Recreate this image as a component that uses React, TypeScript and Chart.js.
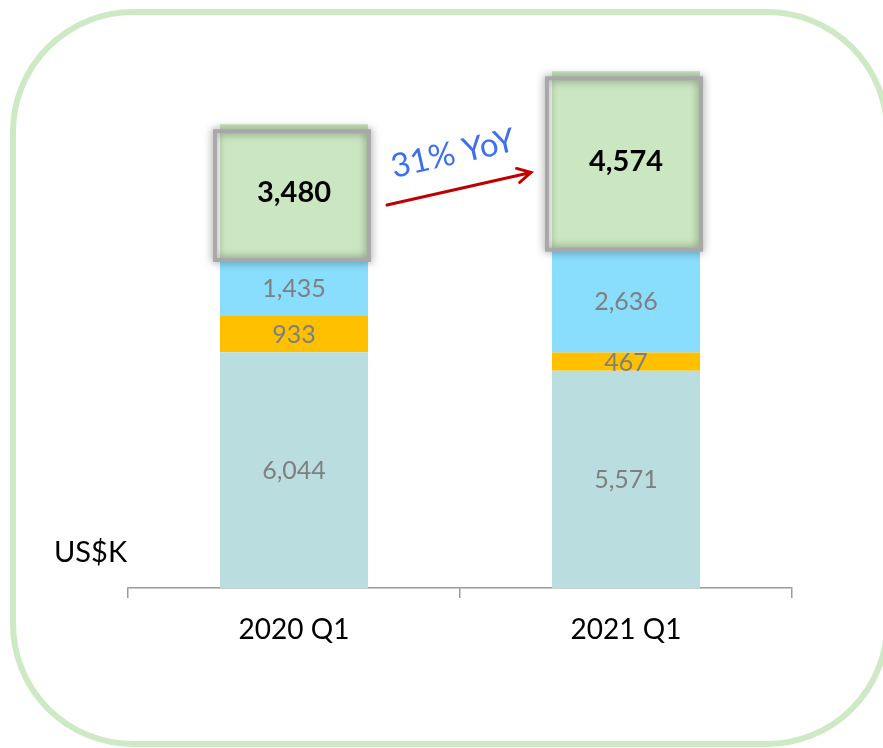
import React, { useEffect, useRef } from "react";
import { Chart, registerables } from "chart.js";

Chart.register(...registerables);

const categories = ["2020 Q1", "2021 Q1"];
const seriesBase = [6044, 5571];
const seriesOrange = [933, 467];
const seriesBlue = [1435, 2636];
const seriesTop = [3480, 4574];
const yoyLabel = "31% YoY";
const unitLabel = "US$K";

const FONT = "Lato, 'Open Sans', sans-serif";
const fmt = (v: number) => v.toLocaleString("en-US");

const decor = {
  id: "decor",
  beforeDraw(chart: any) {
    const ctx = chart.ctx;
    ctx.save();
    ctx.strokeStyle = "#CDEAC4";
    ctx.lineWidth = 6;
    ctx.beginPath();
    (ctx as any).roundRect(13, 12, 874, 732, 120);
    ctx.stroke();
    ctx.restore();
  },
  afterDatasetsDraw(chart: any) {
    const ctx = chart.ctx;
    const n = chart.data.datasets.length;
    // grey framed boxes around the top segment
    const topMeta = chart.getDatasetMeta(n - 1);
    topMeta.data.forEach((el: any) => {
      const left = el.x - el.width / 2;
      const right = el.x + el.width / 2;
      const top = Math.min(el.y, el.base);
      const bottom = Math.max(el.y, el.base);
      ctx.save();
      ctx.shadowColor = "rgba(0,0,0,0.5)";
      ctx.shadowBlur = 8;
      ctx.strokeStyle = "#A8A8A8";
      ctx.lineWidth = 4;
      ctx.strokeRect(left - 5, top + 7, right - left + 6, bottom - top - 7);
      ctx.restore();
    });
    // segment labels
    chart.data.datasets.forEach((ds: any, di: number) => {
      const meta = chart.getDatasetMeta(di);
      meta.data.forEach((el: any, i: number) => {
        const cy = (el.y + el.base) / 2;
        ctx.save();
        ctx.textAlign = "center";
        ctx.textBaseline = "middle";
        if (di === n - 1) {
          ctx.fillStyle = "#000";
          ctx.font = `bold 29px ${FONT}`;
        } else {
          ctx.fillStyle = "#7F7F7F";
          ctx.font = `25px ${FONT}`;
        }
        ctx.fillText(fmt(ds.data[i]), el.x, cy + 1);
        ctx.restore();
      });
    });
    // arrow + YoY
    const a = topMeta.data[0];
    const b = topMeta.data[1];
    const ay = (a.y + a.base) / 2;
    const by = (b.y + b.base) / 2;
    const x1 = a.x + a.width / 2 + 19;
    const y1 = ay + 13;
    const x2 = b.x - b.width / 2 - 21;
    const y2 = by + 12;
    const ang = Math.atan2(y2 - y1, x2 - x1);
    ctx.save();
    ctx.strokeStyle = "#C00000";
    ctx.lineWidth = 3;
    ctx.lineCap = "round";
    ctx.beginPath();
    ctx.moveTo(x1, y1);
    ctx.lineTo(x2, y2);
    const h = 15;
    ctx.moveTo(x2 - h * Math.cos(ang - 0.5), y2 - h * Math.sin(ang - 0.5));
    ctx.lineTo(x2, y2);
    ctx.lineTo(x2 - h * Math.cos(ang + 0.5), y2 - h * Math.sin(ang + 0.5));
    ctx.stroke();
    ctx.restore();
    const mx = (x1 + x2) / 2 - 6;
    const my = (y1 + y2) / 2 - 35;
    ctx.save();
    ctx.translate(mx, my);
    ctx.rotate(ang);
    ctx.fillStyle = "#3D6FEF";
    ctx.font = `33px ${FONT}`;
    ctx.textAlign = "center";
    ctx.textBaseline = "middle";
    ctx.fillText(yoyLabel, 0, 0);
    ctx.restore();
    // unit label
    const area = chart.chartArea;
    ctx.save();
    ctx.fillStyle = "#000";
    ctx.font = `29px ${FONT}`;
    ctx.textAlign = "left";
    ctx.textBaseline = "middle";
    ctx.fillText(unitLabel, area.left - 74, area.bottom - 35);
    ctx.restore();
  },
};

export default function App() {
  const ref = useRef<HTMLCanvasElement | null>(null);
  useEffect(() => {
    if (!ref.current) return;
    const mk = (data: number[], color: string) => ({
      data,
      backgroundColor: color,
      borderWidth: 0,
      barPercentage: 0.446,
      categoryPercentage: 1,
    });
    const chart = new Chart(ref.current, {
      type: "bar",
      data: {
        labels: categories,
        datasets: [
          mk(seriesBase, "#BADEDF"),
          mk(seriesOrange, "#FFC000"),
          mk(seriesBlue, "#89DDFD"),
          mk(seriesTop, "#CBE7C1"),
        ],
      },
      options: {
        animation: false,
        responsive: false,
        maintainAspectRatio: false,
        layout: { padding: { left: 128, right: 91, top: 3, bottom: 0 } },
        plugins: { legend: { display: false }, tooltip: { enabled: false } },
        scales: {
          x: {
            stacked: true,
            offset: true,
            grid: {
              display: true,
              offset: true,
              drawOnChartArea: false,
              drawTicks: true,
              tickLength: 10,
              color: "#9A9A9A",
              lineWidth: 1.5,
            },
            border: { display: true, color: "#9A9A9A", width: 1.5 },
            ticks: { color: "#000", font: { family: FONT, size: 28 }, padding: 15 },
            afterFit: (s: any) => {
              s.height = 160;
            },
          },
          y: { stacked: true, display: false, min: 0, max: 15000 },
        },
      } as any,
      plugins: [decor],
    });
    return () => chart.destroy();
  }, []);
  return (
    <div style={{ position: "fixed", left: 0, top: 0, width: 883, height: 748, background: "#fff" }}>
      <canvas ref={ref} width={883} height={748} />
    </div>
  );
}
